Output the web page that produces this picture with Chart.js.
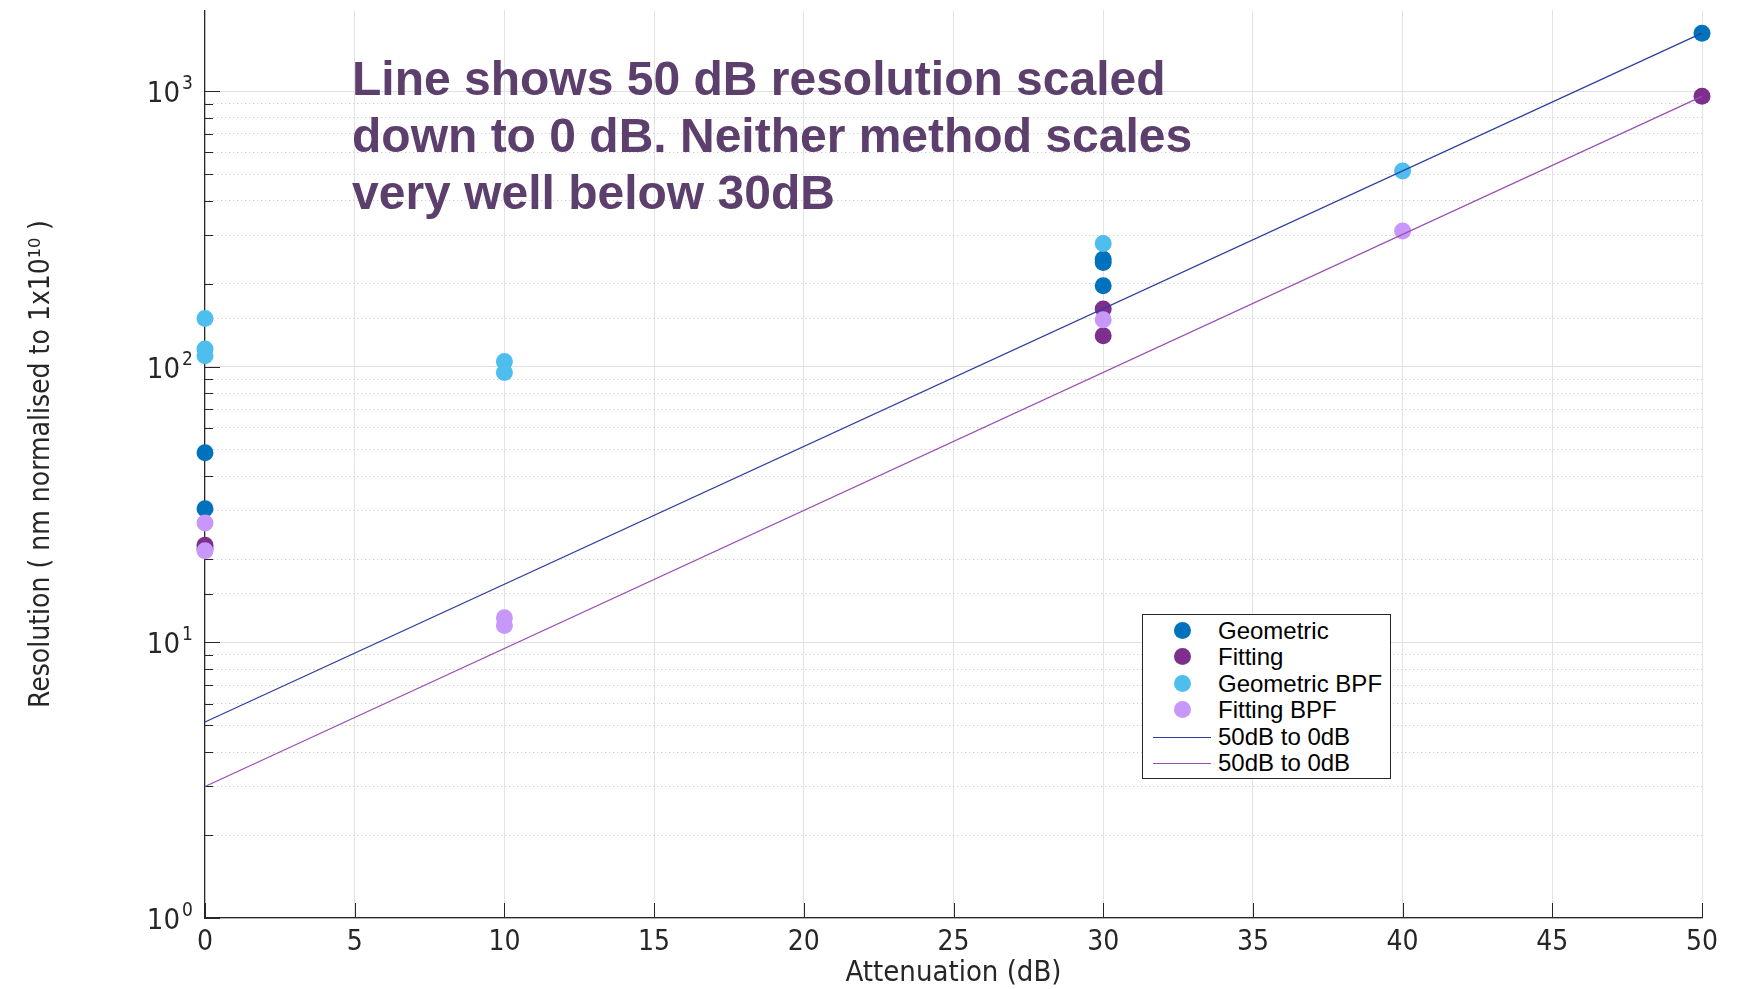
<!DOCTYPE html>
<html>
<head>
<meta charset="utf-8">
<script src="https://cdn.jsdelivr.net/npm/chart.js@4.4.1/dist/chart.umd.min.js"></script>
<style>
  body { margin: 0; background: #fff; }
  #wrap { position: relative; width: 1739px; height: 989px; }
  #note {
    position: absolute; left: 352px; top: 50px;
    font: bold 48px 'Liberation Sans', Arial, sans-serif;
    line-height: 57px; color: rgb(92, 63, 108); white-space: nowrap;
  }
  #legend {
    position: absolute; left: 1142px; top: 614px; width: 247px; height: 163px;
    border: 1px solid #262626; background: #fff;
    font: 24px 'Liberation Sans', Arial, sans-serif; color: #000;
  }
  #legend .row { position: absolute; left: 0; width: 100%; height: 26px; }
  #legend .dot { position: absolute; left: 31px; top: 4px; width: 17px; height: 17px; border-radius: 50%; }
  #legend .seg { position: absolute; left: 10px; top: 13px; width: 58px; height: 1.3px; }
  #legend .txt { position: absolute; left: 75px; top: 0; line-height: 26px; white-space: nowrap; }
</style>
</head>
<body>
<div id="wrap">
  <canvas id="chart" width="1739" height="989"></canvas>
  <div id="note">Line shows 50 dB resolution scaled<br>down to 0 dB. Neither method scales<br>very well below 30dB</div>
  <div id="legend"></div>
</div>
<script>
// ===== data =====
const geometricX = [0, 0, 30, 30, 30, 50];
const geometricY = [48.7, 30.5, 245.5, 238.7, 196.5, 1622];

const fittingX = [0, 0, 30, 30, 50];
const fittingY = [22.5, 21.8, 161.8, 129.5, 957];

const geometricBpfX = [0, 0, 0, 10, 10, 30, 40];
const geometricBpfY = [149.6, 115.9, 109.6, 104.5, 95.3, 279.8, 512.6];

const fittingBpfX = [0, 0, 10, 10, 30, 40];
const fittingBpfY = [27.1, 21.5, 12.29, 11.52, 148, 310.5];

// 50 dB values scaled down to 0 dB
const lineGeoX = [0, 50];
const lineGeoY = [5.14, 1622];
const lineFitX = [0, 50];
const lineFitY = [3.0, 957];

const xTickValues = [0, 5, 10, 15, 20, 25, 30, 35, 40, 45, 50];
const yTickValues = [1, 10, 100, 1000];
const yTickExp = ['0', '1', '2', '3'];

const labels = ['Geometric', 'Fitting', 'Geometric BPF', 'Fitting BPF', '50dB to 0dB', '50dB to 0dB'];
const colors = ['#0072BD', '#7E2F8E', '#4DBEEE', '#C897FA', '#2E3FA0', '#9B50B5'];

const NARROW = "'Liberation Sans Narrow', 'DejaVu Sans Condensed', sans-serif";
const AXIS = '#262626';

const pts = (xs, ys) => xs.map((x, i) => ({ x: x, y: ys[i] }));
const isDecade = v => Math.abs(Math.log10(v) - Math.round(Math.log10(v))) < 1e-9;

function dotSet(i, xs, ys) {
    return {
        label: labels[i],
        data: pts(xs, ys),
        backgroundColor: colors[i],
        borderWidth: 0,
        pointRadius: 8.5,
        pointHoverRadius: 8.5,
        showLine: false,
        clip: false,
        order: 10 - i
    };
}

function lineSet(i, xs, ys) {
    return {
        label: labels[i],
        data: pts(xs, ys),
        borderColor: colors[i],
        backgroundColor: colors[i],
        borderWidth: 1.3,
        pointRadius: 0,
        showLine: true,
        clip: false,
        order: 10 - i
    };
}

// inside tick marks + 10^n labels, like the original axes
const axisExtras = {
    id: 'axisExtras',
    beforeDatasetsDraw(chart) {
        const { ctx, chartArea: a, scales: { x, y } } = chart;
        ctx.save();
        ctx.strokeStyle = AXIS;
        ctx.lineWidth = 1;
        ctx.beginPath();
        xTickValues.forEach(v => {
            const px = Math.round(x.getPixelForValue(v)) + 0.5;
            ctx.moveTo(px, a.bottom);
            ctx.lineTo(px, a.bottom - 15);
        });
        y.ticks.forEach(t => {
            if (t.value > 1000) return;
            const py = Math.round(y.getPixelForValue(t.value)) + 0.5;
            ctx.moveTo(a.left, py);
            ctx.lineTo(a.left + (isDecade(t.value) ? 15 : 8), py);
        });
        ctx.stroke();

        ctx.fillStyle = AXIS;
        yTickValues.forEach((v, i) => {
            const py = y.getPixelForValue(v);
            ctx.font = '29px ' + NARROW;
            ctx.textAlign = 'right';
            ctx.textBaseline = 'alphabetic';
            ctx.fillText('10', 180, py + 11);
            ctx.font = '19px ' + NARROW;
            ctx.textAlign = 'left';
            ctx.fillText(yTickExp[i], 182, py - 2);
        });
        ctx.restore();
    }
};

const ctx = document.getElementById('chart').getContext('2d');

const chart = new Chart(ctx, {
    type: 'scatter',
    data: {
        datasets: [
            dotSet(0, geometricX, geometricY),
            dotSet(1, fittingX, fittingY),
            dotSet(2, geometricBpfX, geometricBpfY),
            dotSet(3, fittingBpfX, fittingBpfY),
            lineSet(4, lineGeoX, lineGeoY),
            lineSet(5, lineFitX, lineFitY)
        ]
    },
    options: {
        responsive: false,
        animation: false,
        layout: { padding: { top: 7, right: 37, bottom: 0, left: 0 } },
        plugins: {
            legend: { display: false },
            tooltip: { enabled: false }
        },
        scales: {
            x: {
                type: 'linear',
                min: 0,
                max: 50,
                afterBuildTicks: s => { s.ticks = xTickValues.map(v => ({ value: v })); },
                afterFit: s => { s.height = 71; },
                ticks: {
                    color: AXIS,
                    font: { family: NARROW, size: 28 },
                    padding: 8,
                    maxRotation: 0,
                    autoSkip: false
                },
                grid: { color: '#e3e3e3', lineWidth: 1, drawTicks: false },
                border: { color: AXIS, width: 1.2 },
                title: {
                    display: true,
                    text: 'Attenuation (dB)',
                    color: AXIS,
                    font: { family: NARROW, size: 29 },
                    padding: { top: 0, bottom: -2 }
                }
            },
            y: {
                type: 'logarithmic',
                min: 1,
                max: 1965,
                afterFit: s => { s.width = 205; },
                ticks: {
                    callback: () => '',
                    autoSkip: false
                },
                grid: {
                    drawTicks: false,
                    lineWidth: 1,
                    color: c => {
                        if (!c.tick || c.tick.value > 1000) return 'rgba(0,0,0,0)';
                        return isDecade(c.tick.value) ? '#e0e0e0' : '#c4c4c4';
                    }
                },
                border: {
                    color: AXIS,
                    width: 1.2,
                    dash: c => (c.tick && !isDecade(c.tick.value)) ? [1, 3] : []
                },
                title: {
                    display: true,
                    text: 'Resolution ( nm normalised to 1x10¹⁰ )',
                    color: AXIS,
                    font: { family: NARROW, size: 28 },
                    padding: { top: 25, bottom: 0 }
                }
            }
        }
    },
    plugins: [axisExtras]
});

// legend, same order as the datasets
const legendBox = document.getElementById('legend');
chart.data.datasets.forEach((ds, i) => {
    const row = document.createElement('div');
    row.className = 'row';
    row.style.top = (3 + i * 26.4) + 'px';
    const mark = document.createElement('span');
    if (ds.showLine) {
        mark.className = 'seg';
        mark.style.background = ds.borderColor;
    } else {
        mark.className = 'dot';
        mark.style.background = ds.backgroundColor;
    }
    const txt = document.createElement('span');
    txt.className = 'txt';
    txt.textContent = ds.label;
    row.appendChild(mark);
    row.appendChild(txt);
    legendBox.appendChild(row);
});
</script>
</body>
</html>
